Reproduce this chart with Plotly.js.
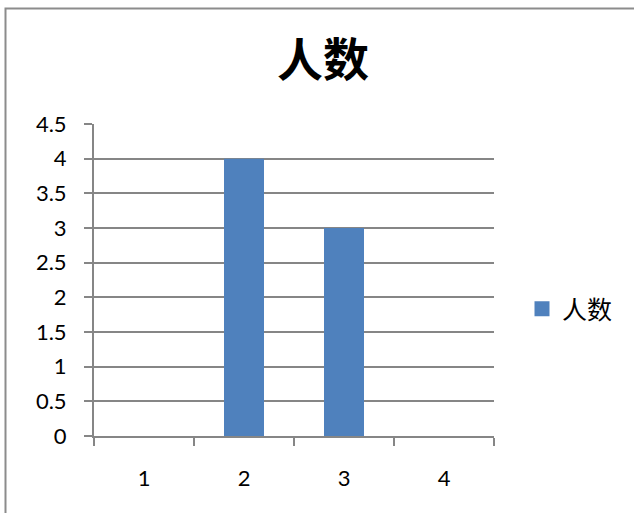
<!DOCTYPE html>
<html>
<head>
<meta charset="utf-8">
<script src="https://cdn.plot.ly/plotly-3.0.1.min.js"></script>
<style>html,body{margin:0;padding:0;background:#fff;}#chart{width:634px;height:513px;}</style>
</head>
<body>
<div id="chart"></div>
<script>
const categories = ["1", "2", "3", "4"];
const values = [0, 4, 3, 0];
const seriesName = "人数";
const chartTitle = "人数";
const yTickVals = [0, 0.5, 1, 1.5, 2, 2.5, 3, 3.5, 4, 4.5];
const yTickText = ["0", "0.5", "1", "1.5", "2", "2.5", "3", "3.5", "4", "4.5"];

const W = 634, H = 513;
const L = 94, R = 140, T = 124, B = 77;
const pw = W - L - R, ph = H - T - B;

const barTrace = {
  type: "bar",
  x: categories,
  y: values,
  name: seriesName,
  marker: {color: "#4F81BD"},
  showlegend: false
};
const legendTrace = {
  type: "scatter",
  mode: "markers",
  x: [null], y: [null],
  name: seriesName,
  marker: {color: "#4F81BD", symbol: "square", size: 15},
  showlegend: true
};

const layout = {
  width: W, height: H,
  margin: {l: L, r: R, t: T, b: B, pad: 0},
  paper_bgcolor: "#ffffff",
  plot_bgcolor: "#ffffff",
  bargap: 0.6,
  title: {
    text: chartTitle,
    font: {family: "Noto Sans CJK SC", size: 46, color: "#000", weight: "bold"},
    xref: "container", yref: "container",
    x: 323 / W, y: 1 - 60 / H, xanchor: "center", yanchor: "middle"
  },
  xaxis: {
    type: "category",
    showline: true, linecolor: "#868686", linewidth: 2,
    ticks: "outside", tickson: "boundaries", ticklen: 8, tickcolor: "#868686", tickwidth: 2,
    showgrid: false, zeroline: false,
    tickfont: {family: "Lato, Carlito, sans-serif", size: 22, color: "#000"},
    ticklabelstandoff: 22
  },
  yaxis: {
    range: [0, 4.5],
    tickvals: yTickVals, ticktext: yTickText,
    showline: true, linecolor: "#868686", linewidth: 2,
    ticks: "outside", ticklen: 8, tickcolor: "#868686", tickwidth: 2,
    showgrid: true, gridcolor: "#868686", gridwidth: 2,
    zeroline: false,
    tickfont: {family: "Lato, Carlito, sans-serif", size: 22, color: "#000"},
    ticklabelstandoff: 13
  },
  legend: {
    x: (522 - L) / pw, y: (436 - 309) / ph, xanchor: "left", yanchor: "middle",
    font: {family: "Noto Sans CJK SC", size: 25, color: "#000"},
    bgcolor: "rgba(0,0,0,0)",
    itemwidth: 30
  },
  shapes: [{
    type: "rect", xref: "paper", yref: "paper",
    x0: (5.5 - L) / pw, x1: (700 - L) / pw,
    y0: (436 - 600) / ph, y1: (436 - 8.5) / ph,
    line: {color: "#8c8c8c", width: 2}, fillcolor: "rgba(0,0,0,0)", layer: "below"
  }]
};

Plotly.newPlot("chart", [barTrace, legendTrace], layout, {displayModeBar: false, staticPlot: true});
</script>
</body>
</html>
